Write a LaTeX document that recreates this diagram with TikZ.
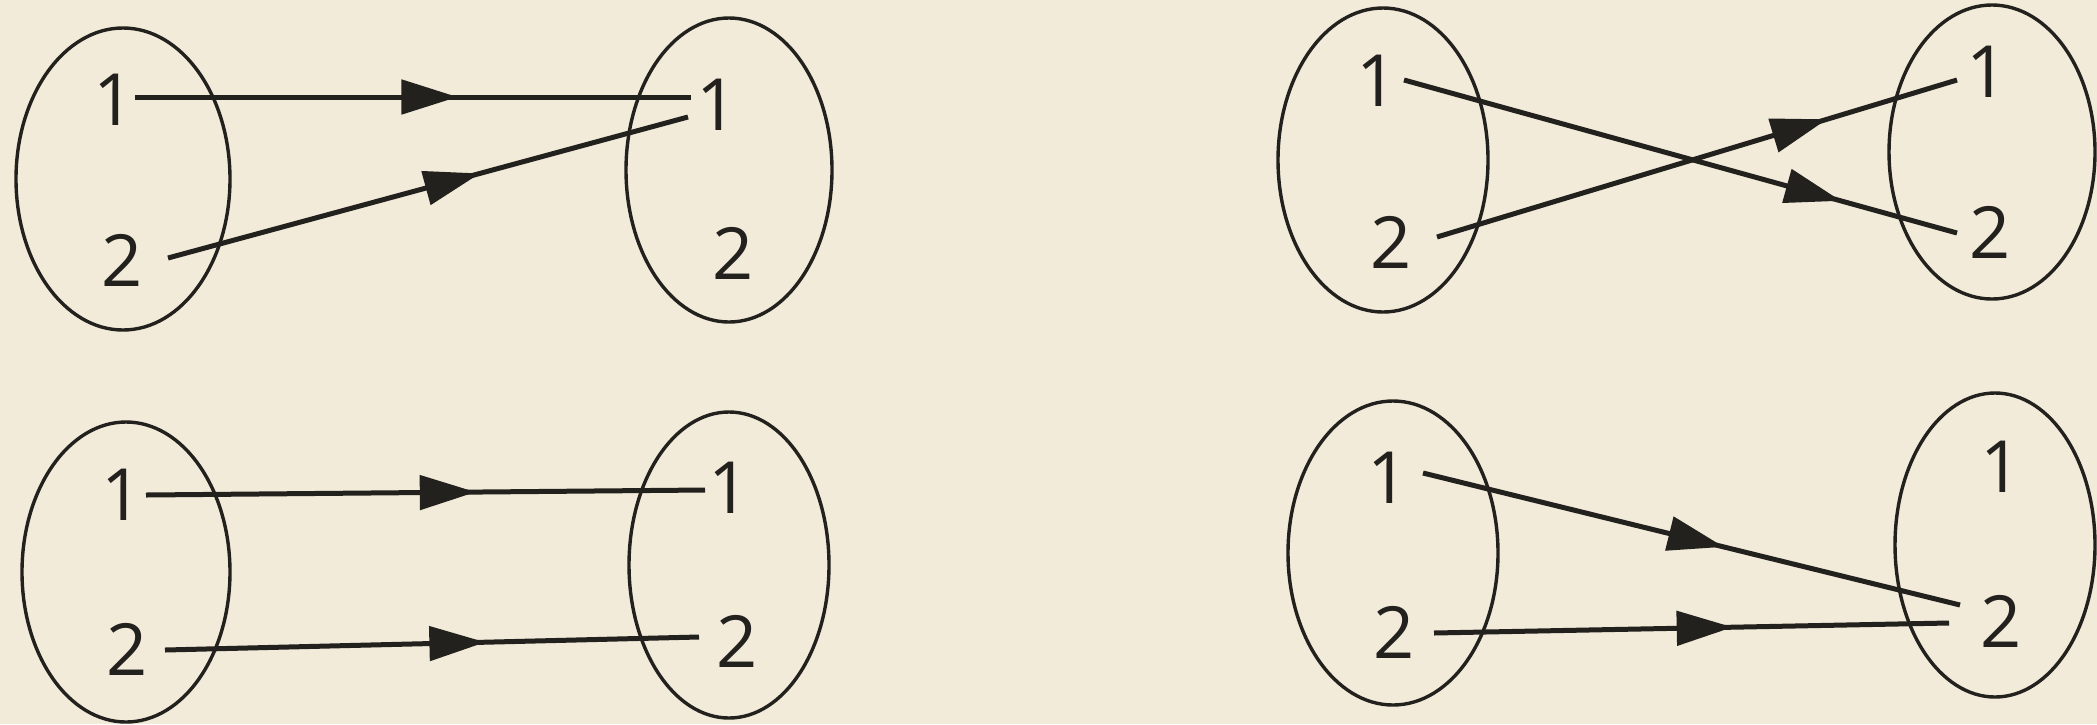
\documentclass[tikz,border=0pt]{standalone}
\usepackage{fontspec}
\setmainfont{Open Sans}
\usetikzlibrary{shapes.geometric,arrows.meta,decorations.markings}
\definecolor{paper}{RGB}{242,235,218}
\definecolor{ink}{RGB}{35,33,30}
\begin{document}
\begin{tikzpicture}[x=0.5pt,y=-0.5pt,
  setbox/.style={draw=ink, line width=1.7pt, ellipse, inner sep=0pt},
  digit/.style={text=ink, font=\fontsize{36}{36}\selectfont, inner sep=0pt},
  maparrow/.style={draw=ink, line width=2.5pt, postaction={decorate},
    decoration={markings, mark=at position #1 with {\arrow{Triangle[length=28pt,width=17pt]}}}},
]
\fill[paper] (0,0) rectangle (2097,724);
\useasboundingbox (0,0) rectangle (2097,724);

% ---------- top left ----------
\node[setbox, minimum width=107pt, minimum height=151pt] (tlA) at (123,179) {};
\node[setbox, minimum width=103pt, minimum height=152pt] (tlB) at (729,170) {};
\node[digit] (tlA1) at (114,100) {1};
\node[digit] (tlA2) at (122,260) {2};
\node[digit] (tlB1) at (717,105) {1};
\node[digit] (tlB2) at (733,253) {2};
\coordinate (tlS1) at (135,97);  \coordinate (tlE1) at (691,97);
\coordinate (tlS2) at (168,258); \coordinate (tlE2) at (688,117);
\draw[maparrow=0.58] (tlS1) -- (tlE1);
\draw[maparrow=0.6] (tlS2) -- (tlE2);

% ---------- top right ----------
\node[setbox, minimum width=105pt, minimum height=152pt] (trA) at (1383,160) {};
\node[setbox, minimum width=103pt, minimum height=147pt] (trB) at (1992,152) {};
\node[digit] (trA1) at (1377,81) {1};
\node[digit] (trA2) at (1391,242) {2};
\node[digit] (trB1) at (1987,72) {1};
\node[digit] (trB2) at (1990,232) {2};
\coordinate (trS1) at (1404,80);  \coordinate (trE1) at (1957,233);
\coordinate (trS2) at (1437,237); \coordinate (trE2) at (1957,80);
\draw[maparrow=0.79] (trS1) -- (trE1);
\draw[maparrow=0.75] (trS2) -- (trE2);

% ---------- bottom left ----------
\node[setbox, minimum width=104pt, minimum height=150pt] (blA) at (126,572) {};
\node[setbox, minimum width=100pt, minimum height=153pt] (blB) at (729,565) {};
\node[digit] (blA1) at (122,495) {1};
\node[digit] (blA2) at (127,649) {2};
\node[digit] (blB1) at (729,488) {1};
\node[digit] (blB2) at (737,641) {2};
\coordinate (blS1) at (146,495); \coordinate (blE1) at (705,490);
\coordinate (blS2) at (165,650); \coordinate (blE2) at (699,637);
\draw[maparrow=0.59] (blS1) -- (blE1);
\draw[maparrow=0.6] (blS2) -- (blE2);

% ---------- bottom right ----------
\node[setbox, minimum width=105pt, minimum height=152pt] (brA) at (1393,553) {};
\node[setbox, minimum width=100pt, minimum height=152pt] (brB) at (1995,545) {};
\node[digit] (brA1) at (1388,478) {1};
\node[digit] (brA2) at (1394,632) {2};
\node[digit] (brB1) at (2001,467) {1};
\node[digit] (brB2) at (2001,621) {2};
\coordinate (brS1) at (1423,473); \coordinate (brE1) at (1960,605);
\coordinate (brS2) at (1434,633); \coordinate (brE2) at (1949,623);
\draw[maparrow=0.56] (brS1) -- (brE1);
\draw[maparrow=0.58] (brS2) -- (brE2);
\end{tikzpicture}
\end{document}
